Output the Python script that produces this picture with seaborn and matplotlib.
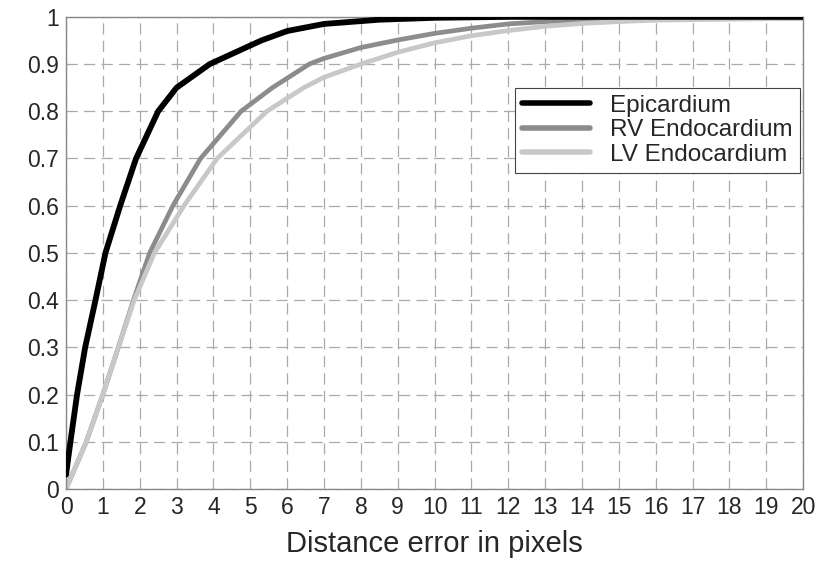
import pandas as pd
import matplotlib.pyplot as plt
import seaborn as sns

# cumulative fraction of contour points vs distance error
epi_x = [0, 0.12, 0.3, 0.52, 0.8, 1.07, 1.47, 1.9, 2.5, 3.0, 3.9, 5.3, 6.0, 7.0, 8.5, 10.0, 12.0, 20.0]
epi_y = [0.03, 0.1, 0.2, 0.3, 0.4, 0.5, 0.6, 0.7, 0.8, 0.85, 0.9, 0.95, 0.97, 0.985, 0.994, 0.998, 1.0, 1.0]

rv_x = [0, 0.55, 1.0, 1.42, 1.83, 2.27, 2.9, 3.65, 4.75, 5.6, 6.6, 7.0, 8.0, 9.0, 10.0, 11.0, 12.0, 13.0, 14.0, 16.0, 20.0]
rv_y = [0, 0.1, 0.2, 0.3, 0.4, 0.5, 0.6, 0.7, 0.8, 0.85, 0.9, 0.912, 0.935, 0.951, 0.965, 0.976, 0.985, 0.99, 0.993, 0.996, 0.997]

lv_x = [0, 0.55, 1.0, 1.42, 1.85, 2.4, 3.2, 4.1, 5.45, 6.45, 7.0, 8.0, 9.0, 10.0, 11.0, 12.0, 13.0, 14.0, 15.0, 16.0, 18.0, 20.0]
lv_y = [0, 0.1, 0.2, 0.3, 0.4, 0.5, 0.6, 0.7, 0.8, 0.85, 0.872, 0.9, 0.925, 0.945, 0.96, 0.971, 0.98, 0.986, 0.99, 0.993, 0.995, 0.997]

labels = ['Epicardium', 'RV Endocardium', 'LV Endocardium']
colors = ['#000000', '#8c8c8c', '#c8c8c8']
x_ticks = list(range(0, 21))
y_ticks = [0, 0.1, 0.2, 0.3, 0.4, 0.5, 0.6, 0.7, 0.8, 0.9, 1]
y_tick_labels = ['0', '0.1', '0.2', '0.3', '0.4', '0.5', '0.6', '0.7', '0.8', '0.9', '1']

df = pd.concat([
    pd.DataFrame({'x': epi_x, 'y': epi_y, 'curve': labels[0]}),
    pd.DataFrame({'x': rv_x, 'y': rv_y, 'curve': labels[1]}),
    pd.DataFrame({'x': lv_x, 'y': lv_y, 'curve': labels[2]}),
])

sns.set_style('white')
plt.rcParams['font.family'] = ['Liberation Sans', 'DejaVu Sans']

fig = plt.figure(figsize=(8.2, 5.62), dpi=100)
ax = fig.add_axes([0.0805, 0.13, 0.899, 0.84])

sns.lineplot(data=df, x='x', y='y', hue='curve', hue_order=labels,
             palette=colors, sort=False, estimator=None, ax=ax, linewidth=3.4)
lines = ax.get_lines()
lines[0].set_linewidth(4.2)
lines[0].set_zorder(5)
for ln in lines:
    ln.set_solid_joinstyle('round')

ax.set_xlim(0, 20)
ax.set_ylim(0, 1)
ax.set_xticks(x_ticks)
ax.set_xticklabels([str(t) for t in x_ticks], fontsize=16.5)
ax.set_yticks(y_ticks)
ax.set_yticklabels(y_tick_labels, fontsize=16.5)
ax.tick_params(length=0, pad=5)
ax.grid(True, color='#aaaaaa', linewidth=0.9, linestyle=(0, (9, 5)))
for s in ax.spines.values():
    s.set_color('#888888')
    s.set_linewidth(1.0)

ax.set_xlabel('Distance error in pixels', fontsize=21, labelpad=8)
ax.set_ylabel('')

leg = ax.legend(loc='upper right', bbox_to_anchor=(0.995, 0.85), fontsize=17.5,
                frameon=True, fancybox=False, framealpha=1, edgecolor='#444444',
                handlelength=2.8, handletextpad=0.8, borderpad=0.3, labelspacing=0.1,
                borderaxespad=0)
leg.get_frame().set_linewidth(0.8)
for h in leg.get_lines():
    h.set_linewidth(4)

fig.savefig('out.png', dpi=100)
